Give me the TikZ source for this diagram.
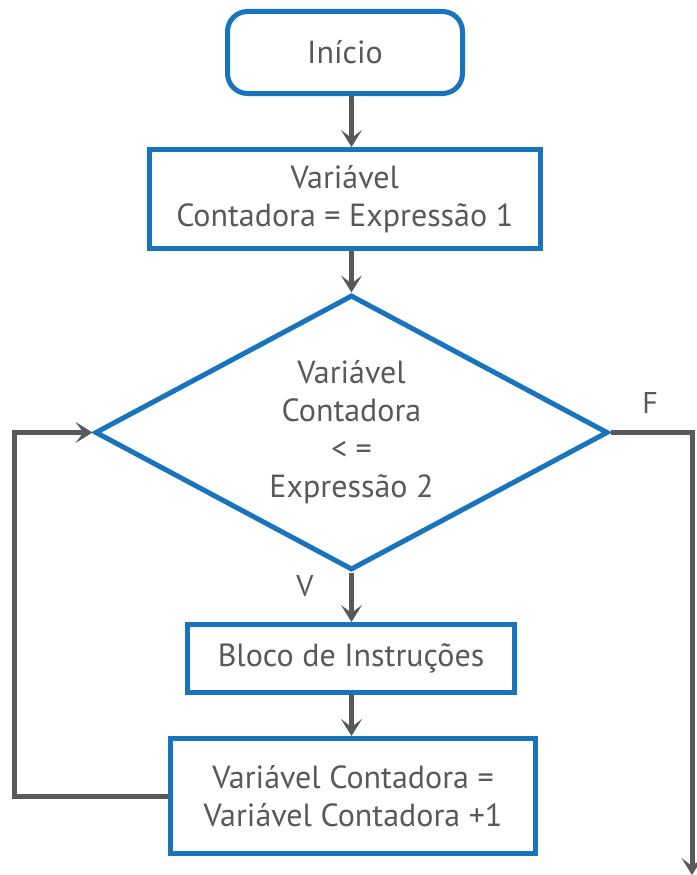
\documentclass[tikz,border=0pt]{standalone}
\usepackage{fontspec}
\setmainfont{PT Sans}
\usetikzlibrary{shapes.geometric,arrows.meta}
\definecolor{flowblue}{HTML}{1874BC}
\definecolor{flowgray}{HTML}{58595B}
\begin{document}
\begin{tikzpicture}[x=1pt,y=-1pt,
  txt/.style={font=\fontsize{32}{38}\selectfont, text=flowgray, align=center},
  shapebase/.style={txt, draw=flowblue, line width=5pt, inner sep=0pt, fill=white},
  blockbox/.style={shapebase, rectangle},
  startbox/.style={shapebase, rectangle, rounded corners=20pt},
  testbox/.style={shapebase, diamond, aspect=1.865},
  lbl/.style={font=\fontsize{30}{34}\selectfont, text=flowgray, inner sep=0pt},
  flow/.style={draw=flowgray, line width=5pt, -{Stealth[length=17pt,width=21pt,inset=8pt]}},
  ]
\useasboundingbox (0,0) rectangle (696,875);

% flowchart blocks
\node[startbox, minimum width=235pt, minimum height=82pt] (start) at (345,52.5) {Início};
\node[blockbox, minimum width=390.5pt, minimum height=98.5pt] (init) at (344.75,198.75)
  {Variável\\Contadora = Expressão 1};
\node[testbox, minimum width=513pt, minimum height=275pt] (test) at (351.5,432.5)
  {Variável\\Contadora\\< =\\Expressão 2};
\node[blockbox, minimum width=327pt, minimum height=68pt] (body) at (351,658.5)
  {Bloco de Instruções};
\node[blockbox, minimum width=365pt, minimum height=115pt] (incr) at (353,796)
  {Variável Contadora =\\Variável Contadora +1};

% branch labels
\node[lbl] (lblF) at (650,403) {F};
\node[lbl] (lblV) at (305,586) {V};

% routing points of the loop and the exit
\coordinate (loopcorner) at (14,796);
\coordinate (exitend) at (692,875);

% connectors
\draw[flow] (start.south -| test.north) -- (init.north -| test.north);
\draw[flow] (init.south -| test.north) -- (test.north);
\draw[flow] (test.south) -- (body.north -| test.south);
\draw[flow] (body.south -| test.south) -- (incr.north -| test.south);
\draw[flow] (incr.west) -- (loopcorner) |- (test.west);
\draw[flow] (test.east) -| (exitend);
\end{tikzpicture}
\end{document}
